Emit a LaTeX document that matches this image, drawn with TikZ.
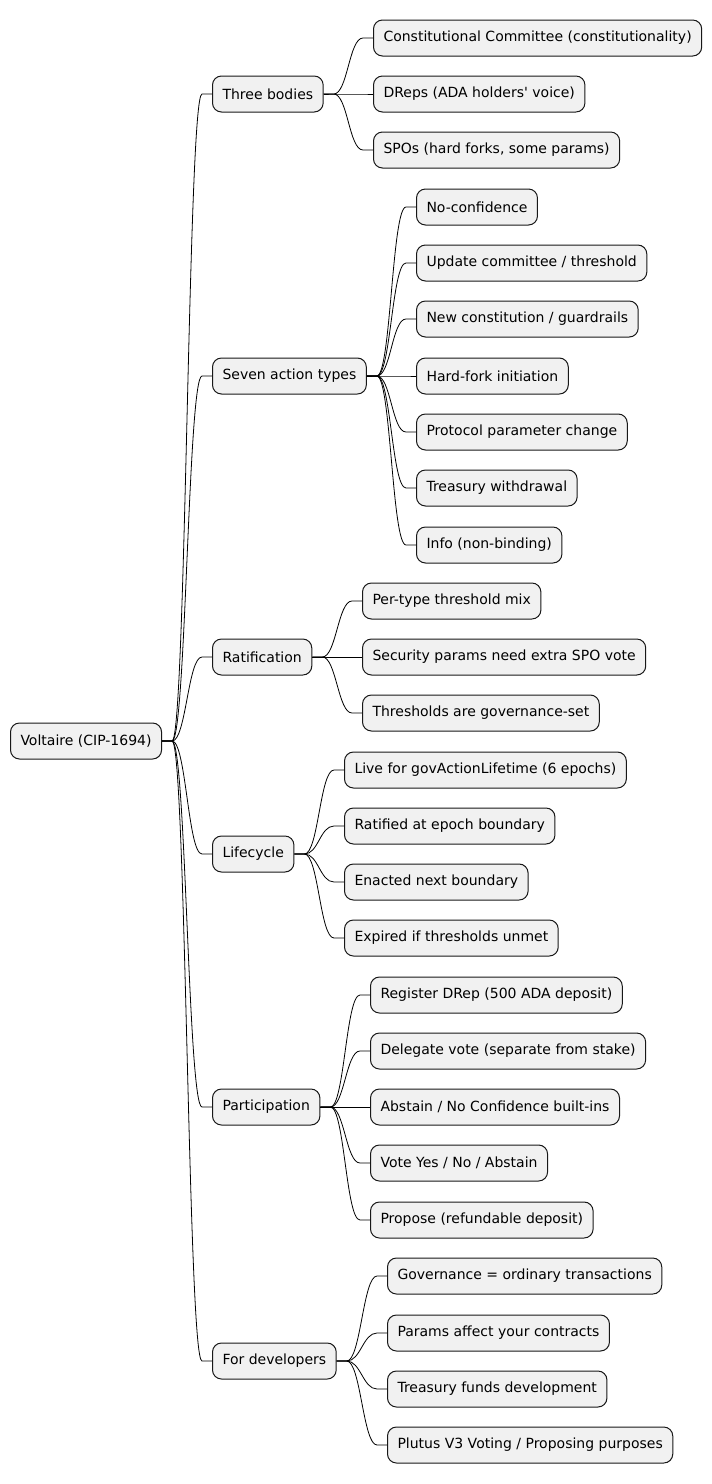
\documentclass[tikz,border=0pt]{standalone}
\usepackage{fontspec}
\setmainfont{DejaVu Sans}[Ligatures=TeXOff]
\usepackage{xcolor}
\usetikzlibrary{calc}
\definecolor{nodebg}{HTML}{F1F1F1}
\definecolor{nodeline}{HTML}{181818}

\begin{document}
\begin{tikzpicture}[
    x=1pt, y=-1pt,
    every node/.style={font=\fontsize{14}{16}\selectfont},
    topic/.style={draw=nodeline, line width=1pt, fill=nodebg, rounded corners=9pt,
                  anchor=west, minimum height=36pt, inner xsep=10pt, inner ysep=0pt},
    link/.style={line width=0.8pt, to path={(\tikztostart.east) -- ++(10,0)
                 .. controls +(14,0) and +(-14,0) .. ([xshift=-10pt]\tikztotarget.west)
                 -- (\tikztotarget.west)}},
]
    \useasboundingbox (0,0) rectangle (712,1484);

    % Columns: root x=10, branches x=212, leaves from x=344 to x=416

    \node[topic] (root) at (10, 741) {Voltaire (CIP-1694)};

    % Branches
    \node[topic] (bodies)  at (212,   94) {Three bodies};
    \node[topic] (actions) at (212,  376) {Seven action types};
    \node[topic] (ratif)   at (212,  657) {Ratification};
    \node[topic] (life)    at (212,  854) {Lifecycle};
    \node[topic] (part)    at (212, 1107) {Participation};
    \node[topic] (dev)     at (212, 1361) {For developers};

    % Three bodies
    \node[topic] (cc)    at (373,  38) {Constitutional Committee (constitutionality)};
    \node[topic] (dreps) at (373,  94) {DReps (ADA holders' voice)};
    \node[topic] (spos)  at (373, 150) {SPOs (hard forks, some params)};

    % Seven action types
    \node[topic] (noconf)   at (416, 207) {No-confidence};
    \node[topic] (updcomm)  at (416, 263) {Update committee / threshold};
    \node[topic] (newconst) at (416, 319) {New constitution / guardrails};
    \node[topic] (hardfork) at (416, 376) {Hard-fork initiation};
    \node[topic] (protparam) at (416, 432) {Protocol parameter change};
    \node[topic] (treasury) at (416, 488) {Treasury withdrawal};
    \node[topic] (info)     at (416, 545) {Info (non-binding)};

    % Ratification
    \node[topic] (mix)      at (362, 601) {Per-type threshold mix};
    \node[topic] (secparam) at (362, 657) {Security params need extra SPO vote};
    \node[topic] (govset)   at (362, 713) {Thresholds are governance-set};

    % Lifecycle
    \node[topic] (live)     at (344, 770) {Live for govActionLifetime (6 epochs)};
    \node[topic] (ratified) at (344, 826) {Ratified at epoch boundary};
    \node[topic] (enacted)  at (344, 882) {Enacted next boundary};
    \node[topic] (expired)  at (344, 938) {Expired if thresholds unmet};

    % Participation
    \node[topic] (register) at (370,  995) {Register DRep (500 ADA deposit)};
    \node[topic] (delegate) at (370, 1051) {Delegate vote (separate from stake)};
    \node[topic] (abstain)  at (370, 1107) {Abstain / No Confidence built-ins};
    \node[topic] (vote)     at (370, 1163) {Vote Yes / No / Abstain};
    \node[topic] (propose)  at (370, 1220) {Propose (refundable deposit)};

    % For developers
    \node[topic] (ordinary) at (387, 1276) {Governance = ordinary transactions};
    \node[topic] (affect)   at (387, 1333) {Params affect your contracts};
    \node[topic] (funds)    at (387, 1389) {Treasury funds development};
    \node[topic] (plutus)   at (387, 1445) {Plutus V3 Voting / Proposing purposes};

    % Root to branches
    \draw[link] (root) to (bodies);
    \draw[link] (root) to (actions);
    \draw[link] (root) to (ratif);
    \draw[link] (root) to (life);
    \draw[link] (root) to (part);
    \draw[link] (root) to (dev);

    % Branches to leaves
    \draw[link] (bodies) to (cc);
    \draw[link] (bodies) to (dreps);
    \draw[link] (bodies) to (spos);

    \draw[link] (actions) to (noconf);
    \draw[link] (actions) to (updcomm);
    \draw[link] (actions) to (newconst);
    \draw[link] (actions) to (hardfork);
    \draw[link] (actions) to (protparam);
    \draw[link] (actions) to (treasury);
    \draw[link] (actions) to (info);

    \draw[link] (ratif) to (mix);
    \draw[link] (ratif) to (secparam);
    \draw[link] (ratif) to (govset);

    \draw[link] (life) to (live);
    \draw[link] (life) to (ratified);
    \draw[link] (life) to (enacted);
    \draw[link] (life) to (expired);

    \draw[link] (part) to (register);
    \draw[link] (part) to (delegate);
    \draw[link] (part) to (abstain);
    \draw[link] (part) to (vote);
    \draw[link] (part) to (propose);

    \draw[link] (dev) to (ordinary);
    \draw[link] (dev) to (affect);
    \draw[link] (dev) to (funds);
    \draw[link] (dev) to (plutus);

\end{tikzpicture}
\end{document}
